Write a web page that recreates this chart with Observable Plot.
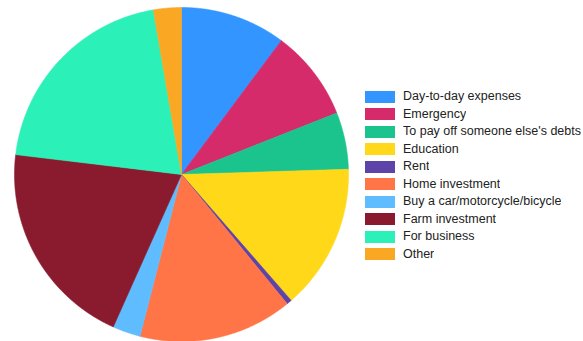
<!DOCTYPE html>
<html>
<head>
<meta charset="utf-8">
<script src="https://cdn.jsdelivr.net/npm/d3@7"></script>
<script src="https://cdn.jsdelivr.net/npm/@observablehq/plot@0.6"></script>
<style>
  html, body { margin: 0; padding: 0; background: #fff; }
  #wrap { position: relative; width: 583px; height: 341px; overflow: hidden; font-family: "Liberation Sans", Arial, sans-serif; }
  #pie { position: absolute; left: 0; top: 0; }
  #legend { position: absolute; left: 365px; top: 90px; }
  .lg-swatches { font-family: "Liberation Sans", Arial, sans-serif !important; font-size: 12.5px !important; color: #222 !important; margin: 0 !important; min-height: 0 !important; }
  .lg-swatch { height: 17.5px !important; padding: 0 !important; margin: 0 !important; display: flex; align-items: flex-start !important; line-height: 12px; }
  .lg-swatch svg { margin-right: 8px !important; margin-top: 0.5px; flex-shrink: 0; }
  .lg-swatch-label { line-height: 13px; }
</style>
</head>
<body>
<div id="wrap">
  <div id="pie"></div>
  <div id="legend"></div>
</div>
<script>
const categories = [
  "Day-to-day expenses",
  "Emergency",
  "To pay off someone else's debts",
  "Education",
  "Rent",
  "Home investment",
  "Buy a car/motorcycle/bicycle",
  "Farm investment",
  "For business",
  "Other"
];
const values = [10.2, 8.8, 5.5, 14.1, 0.5, 14.9, 2.7, 20.2, 20.4, 2.7];
const colors = [
  "#3395FF", "#D62B6A", "#1BC48D", "#FFD81A", "#5E44A8",
  "#FF7547", "#5FBDFF", "#8A1B2E", "#2BF0B8", "#FAA823"
];

const data = categories.map((c, i) => ({label: c, value: values[i]}));
const arcs = d3.pie().value(d => d.value).sort(null)(data);

// Build polygon outlines for each slice (angles clockwise from 12 o'clock)
const pts = [];
for (const a of arcs) {
  const label = a.data.label;
  pts.push({label, x: 0, y: 0});
  const n = Math.max(2, Math.ceil((a.endAngle - a.startAngle) / 0.004));
  for (let k = 0; k <= n; k++) {
    const t = a.startAngle + (a.endAngle - a.startAngle) * k / n;
    pts.push({label, x: Math.sin(t), y: Math.cos(t)});
  }
  pts.push({label, x: 0, y: 0});
}

const colorScale = {domain: categories, range: colors, type: "categorical"};

const chart = Plot.plot({
  width: 362,
  height: 341,
  marginLeft: 14,
  marginRight: 14,
  marginTop: 7,
  marginBottom: 0,
  x: {domain: [-1, 1], axis: null},
  y: {domain: [-1, 1], axis: null},
  color: colorScale,
  marks: [
    Plot.line(pts, {
      x: "x", y: "y", z: "label",
      fill: "label", stroke: "label",
      strokeWidth: 0.6, curve: "linear"
    })
  ]
});
document.getElementById("pie").appendChild(chart);

const legend = Plot.legend({
  color: colorScale,
  legend: "swatches",
  columns: 1,
  swatchWidth: 30,
  swatchHeight: 12,
  className: "lg"
});
document.getElementById("legend").appendChild(legend);
</script>
</body>
</html>
